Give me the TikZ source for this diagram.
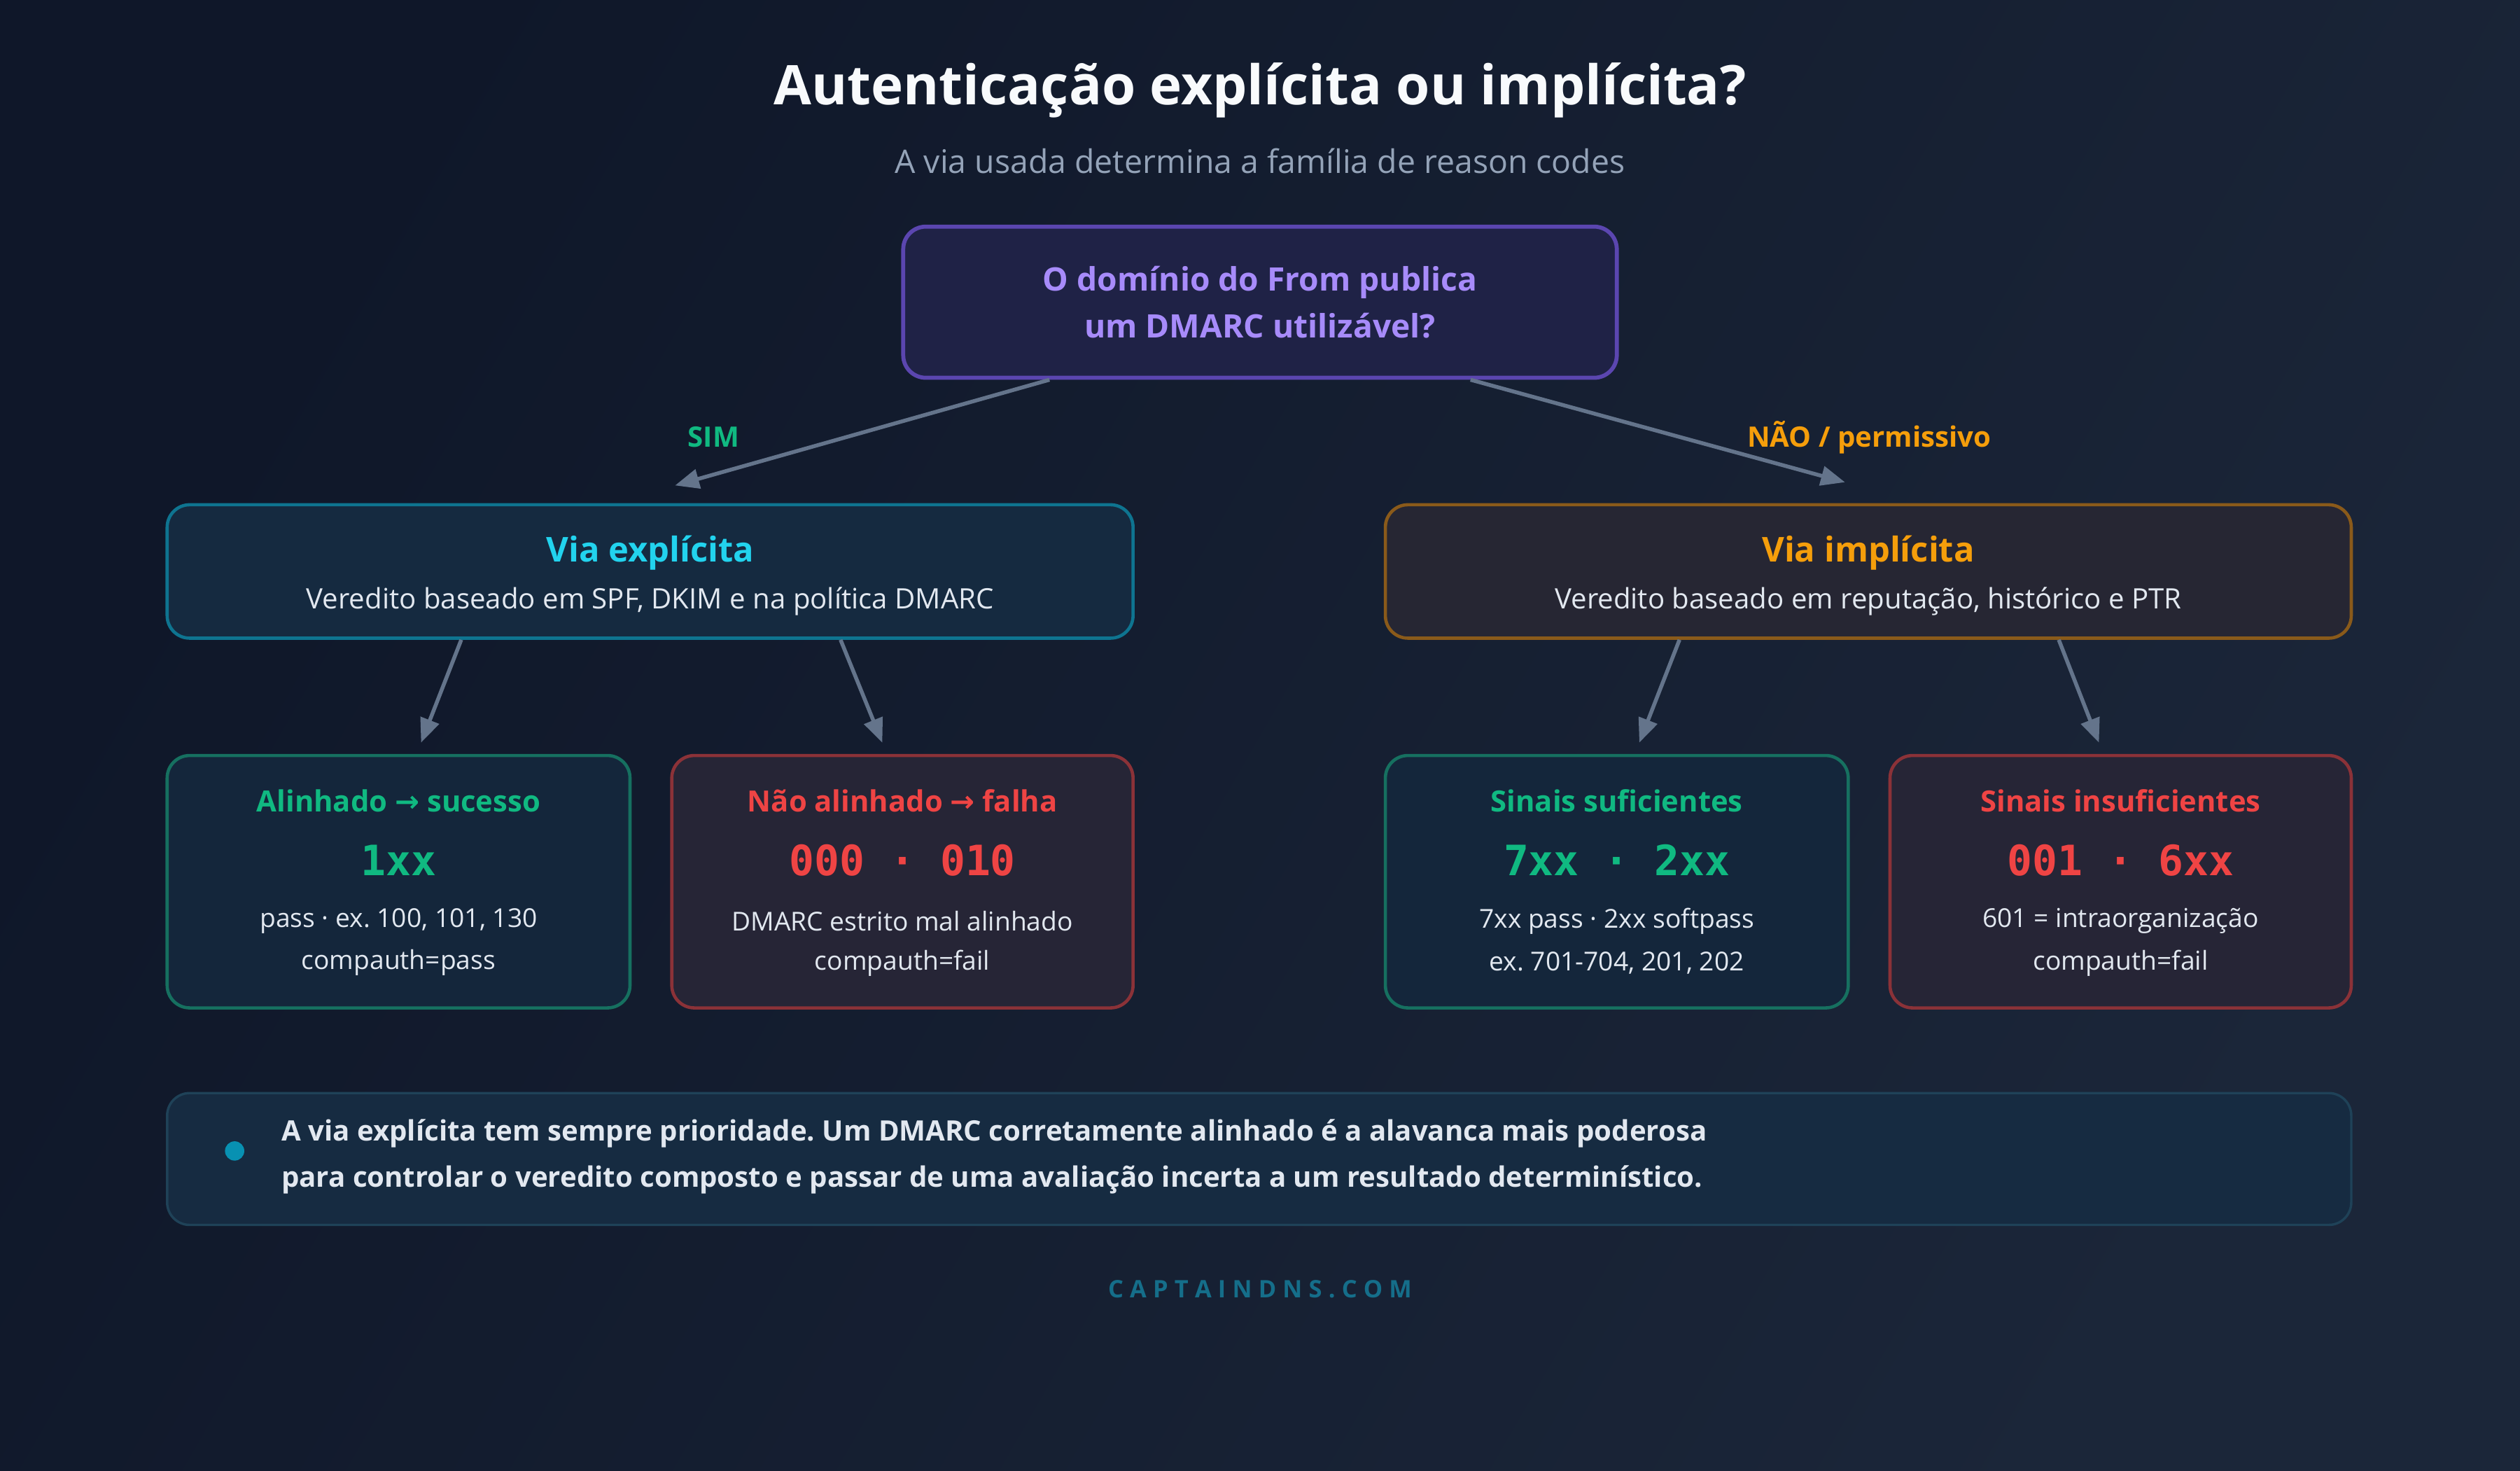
\documentclass[tikz,border=0pt]{standalone}
\usepackage{fontspec}
\setmainfont{Open Sans}
\newfontfamily\monof{DejaVu Sans Mono}
\newfontfamily\symf{DejaVu Sans}
\usetikzlibrary{arrows.meta,calc}
\frenchspacing
\definecolor{bgA}{HTML}{0F1729}
\definecolor{bgB}{HTML}{1B2639}
\definecolor{titlec}{HTML}{F8FAFC}
\definecolor{subc}{HTML}{94A3B8}
\definecolor{topfill}{HTML}{1F2246}
\definecolor{topdraw}{HTML}{5B46B0}
\definecolor{topText}{HTML}{A78BFA}
\definecolor{expfill}{HTML}{152A40}
\definecolor{expdraw}{HTML}{0E7490}
\definecolor{expText}{HTML}{22D3EE}
\definecolor{impfill}{HTML}{262633}
\definecolor{impdraw}{HTML}{8A5A1A}
\definecolor{impText}{HTML}{F59E0B}
\definecolor{okfill}{HTML}{14263B}
\definecolor{okdraw}{HTML}{167060}
\definecolor{okText}{HTML}{10B981}
\definecolor{kofill}{HTML}{262536}
\definecolor{kodraw}{HTML}{8B3238}
\definecolor{koText}{HTML}{EF4444}
\definecolor{bodyc}{HTML}{E2E8F0}
\definecolor{arrowc}{HTML}{64748B}
\definecolor{notefill}{HTML}{162B41}
\definecolor{notedraw}{HTML}{1F4258}
\definecolor{dotc}{HTML}{0891B2}
\definecolor{brandc}{HTML}{156E8A}
\newcommand{\rarr}{{\symf\bfseries →}}
\tikzset{
  box/.style={rounded corners=14pt, line width=2pt, inner sep=0pt},
  conn/.style={draw=arrowc, line width=2.4pt, -{Triangle[length=15pt,width=12pt]}},
  bodytxt/.style={text=bodyc, font=\fontsize{16.2}{19}\selectfont, inner sep=0pt},
  cardtitle/.style={font=\fontsize{18.2}{21}\selectfont\bfseries, inner sep=0pt},
  codetxt/.style={font=\fontsize{26}{30}\selectfont\monof\bfseries, inner sep=0pt},
  pathtitle/.style={font=\fontsize{21.3}{24}\selectfont\bfseries, inner sep=0pt},
  edgelabel/.style={font=\fontsize{17.5}{20}\selectfont\bfseries, inner sep=0pt},
}
\begin{document}
\begin{tikzpicture}[x=1pt,y=-1pt]
\useasboundingbox (0,0) rectangle (1568,914.67);
\shade[left color=bgA, right color=bgB, shading angle=60] (0,0) rectangle (1568,914.67);

% title
\node[text=titlec, font=\fontsize{34}{40}\selectfont\bfseries, inner sep=0pt] (title) at (784,56) {Autenticação explícita ou implícita?};
\node[text=subc, font=\fontsize{20.2}{24}\selectfont, inner sep=0pt] (subtitle) at (784,100) {A via usada determina a família de reason codes};

% top question
\node[box, draw=topdraw, fill=topfill, line width=2.5pt, minimum width=444pt, minimum height=94pt] (top) at (784,188) {};
\node[text=topText, font=\fontsize{20.1}{29}\selectfont\bfseries, align=center, inner sep=0pt] (topq) at (784,188) {O domínio do From publica\\um DMARC utilizável?};

% paths
\node[box, draw=expdraw, fill=expfill, minimum width=601pt, minimum height=83pt] (exp) at (404.5,355.5) {};
\node[pathtitle, text=expText] (expt) at (404.5,344) {Via explícita};
\node[bodytxt, font=\fontsize{17.5}{20}\selectfont] (exps) at (404.5,374) {Veredito baseado em SPF, DKIM e na política DMARC};

\node[box, draw=impdraw, fill=impfill, minimum width=601pt, minimum height=83pt] (imp) at (1162.5,355.5) {};
\node[pathtitle, text=impText] (impt) at (1162.5,344) {Via implícita};
\node[bodytxt, font=\fontsize{17.5}{20}\selectfont] (imps) at (1162.5,374) {Veredito baseado em reputação, histórico e PTR};

% cards
\node[box, draw=okdraw, fill=okfill, minimum width=288pt, minimum height=157pt] (c1) at (248,548.5) {};
\node[cardtitle, text=okText] (c1t) at (248,498) {Alinhado \rarr{} sucesso};
\node[codetxt, text=okText] (c1c) at (248,535) {1xx};
\node[bodytxt] (c1a) at (248,573) {pass · ex. 100, 101, 130};
\node[bodytxt] (c1b) at (248,599) {compauth=pass};

\node[box, draw=kodraw, fill=kofill, minimum width=287pt, minimum height=157pt] (c2) at (561.5,548.5) {};
\node[cardtitle, text=koText] (c2t) at (561.5,498) {Não alinhado \rarr{} falha};
\node[codetxt, text=koText] (c2c) at (561.5,535) {000 · 010};
\node[bodytxt] (c2a) at (561.5,573) {DMARC estrito mal alinhado};
\node[bodytxt] (c2b) at (561.5,599) {compauth=fail};

\node[box, draw=okdraw, fill=okfill, minimum width=288pt, minimum height=157pt] (c3) at (1006,548.5) {};
\node[cardtitle, text=okText] (c3t) at (1006,498) {Sinais suficientes};
\node[codetxt, text=okText] (c3c) at (1006,535) {7xx · 2xx};
\node[bodytxt] (c3a) at (1006,573) {7xx pass · 2xx softpass};
\node[bodytxt] (c3b) at (1006,599) {ex. 701-704, 201, 202};

\node[box, draw=kodraw, fill=kofill, minimum width=287pt, minimum height=157pt] (c4) at (1319.5,548.5) {};
\node[cardtitle, text=koText] (c4t) at (1319.5,498) {Sinais insuficientes};
\node[codetxt, text=koText] (c4c) at (1319.5,535) {001 · 6xx};
\node[bodytxt] (c4a) at (1319.5,573) {601 = intraorganização};
\node[bodytxt] (c4b) at (1319.5,599) {compauth=fail};

% connectors
\coordinate (e1) at (420,302);
\coordinate (e2) at (1148,300);
\draw[conn] ([xshift=-131pt]top.south) -- (e1);
\draw[conn] ([xshift=131pt]top.south) -- (e2);
\node[edgelabel, text=okText] (sim) at (444,272) {SIM};
\node[edgelabel, text=impText] (nao) at (1163,272) {NÃO / permissivo};

\coordinate (f1) at (262,462);
\coordinate (f2) at (549,462);
\coordinate (f3) at (1020,462);
\coordinate (f4) at (1306,462);
\draw[conn] ([xshift=-117.5pt]exp.south) -- (f1);
\draw[conn] ([xshift=118.5pt]exp.south) -- (f2);
\draw[conn] ([xshift=-117.5pt]imp.south) -- (f3);
\draw[conn] ([xshift=118.5pt]imp.south) -- (f4);

% note
\node[box, draw=notedraw, fill=notefill, line width=1.5pt, minimum width=1359pt, minimum height=82pt] (note) at (783.5,721) {};
\fill[dotc] (146,716) circle (6pt);
\node[text=bodyc, font=\fontsize{17.5}{29}\selectfont\bfseries, align=left, anchor=west, inner sep=0pt] (notet) at (175,719.5) {A via explícita tem sempre prioridade. Um DMARC corretamente alinhado é a alavanca mais poderosa\\para controlar o veredito composto e passar de uma avaliação incerta a um resultado determinístico.};

\node[text=brandc, font=\fontsize{15}{18}\selectfont\bfseries, inner sep=0pt] (brand) at (784,802) {C\kern4pt A\kern4pt P\kern4pt T\kern4pt A\kern4pt I\kern4pt N\kern4pt D\kern4pt N\kern4pt S\kern4pt .\kern4pt C\kern4pt O\kern4pt M};
\end{tikzpicture}
\end{document}
